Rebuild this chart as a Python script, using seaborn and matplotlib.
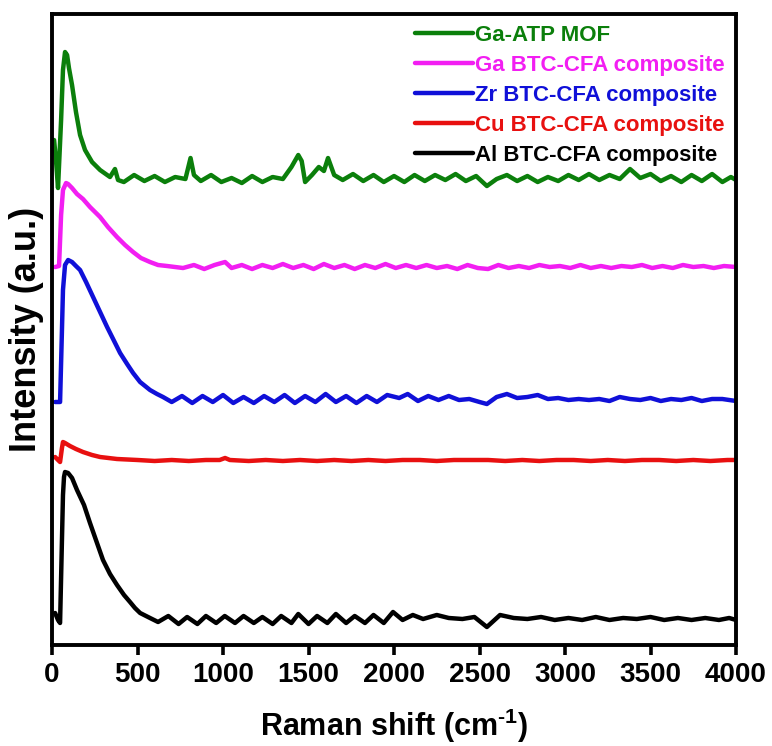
import matplotlib
matplotlib.use("Agg")
import matplotlib.pyplot as plt
from matplotlib.lines import Line2D
import pandas as pd
import seaborn as sns

# ---- Raman spectra (shift in cm^-1, intensity in arbitrary units, stacked) ----
ga_atp_x = [12, 23, 35, 53, 64, 76, 88, 99, 117, 140, 164, 193, 234, 281, 339, 368, 386,
            420, 480, 540, 600, 660, 720, 780, 810, 830, 870, 930, 990, 1050, 1110,
            1170, 1230, 1290, 1350, 1400, 1440, 1460, 1480, 1520, 1560, 1590, 1614,
            1650, 1700, 1760, 1820, 1880, 1940, 2000, 2060, 2120, 2180, 2240, 2300,
            2360, 2420, 2480, 2543, 2600, 2660, 2720, 2780, 2840, 2900, 2960, 3020,
            3080, 3140, 3200, 3260, 3320, 3380, 3440, 3500, 3560, 3620, 3680, 3740,
            3800, 3860, 3920, 3970, 4000]
ga_atp_y = [505, 485, 457, 525, 575, 593, 590, 577, 560, 533, 510, 495, 483, 475, 468, 476, 465,
            463, 470, 464, 469, 463, 468, 466, 487, 470, 464, 470, 463, 467, 462,
            469, 463, 468, 466, 478, 490, 484, 463, 470, 478, 474, 487,
            470, 465, 471, 464, 470, 463, 469, 463, 470, 464, 470, 465,
            471, 464, 469, 459, 466, 470, 464, 469, 463, 468, 464, 470,
            465, 471, 465, 470, 466, 476, 467, 471, 464, 469, 463, 470,
            464, 471, 463, 468, 465]

ga_btc_x = [18, 41, 53, 64, 82, 94, 117, 146, 181, 222, 281, 327, 380, 427, 474, 520,
            573, 620, 673, 766,
            830, 890, 950, 1012, 1050, 1110, 1170, 1230, 1290, 1350, 1410, 1470,
            1530, 1590, 1650, 1710, 1770, 1830, 1890, 1950, 2010, 2070, 2130, 2190,
            2250, 2310, 2370, 2430, 2490, 2550, 2610, 2670, 2730, 2790, 2850, 2910,
            2970, 3030, 3090, 3150, 3210, 3270, 3330, 3390, 3450, 3510, 3570, 3630,
            3690, 3750, 3810, 3870, 3930, 4000]
ga_btc_y = [378, 379, 430, 455, 462, 461, 457, 451, 446, 438, 428, 418, 408, 400, 393, 387,
            383, 380, 379, 377,
            380, 376, 380, 383, 377, 380, 376, 380, 377, 381, 377, 380,
            376, 381, 377, 380, 376, 380, 377, 381, 377, 380, 377, 380,
            377, 379, 376, 380, 377, 376, 380, 377, 379, 377, 380, 378,
            379, 377, 380, 377, 379, 377, 379, 378, 380, 377, 379, 377,
            380, 378, 379, 377, 379, 378]

zr_btc_x = [18, 47, 58, 64, 76, 94, 117, 140, 164, 199, 240, 281, 322, 363, 398, 439,
            474, 515, 573, 614, 649,
            700, 760, 820, 880, 940, 1000, 1060, 1120, 1180, 1240, 1300, 1360,
            1420, 1480, 1540, 1600, 1660, 1720, 1780, 1840, 1900, 1960, 2030, 2080,
            2140, 2200, 2260, 2320, 2380, 2440, 2500, 2543, 2600, 2660, 2720, 2780,
            2840, 2900, 2960, 3020, 3080, 3140, 3200, 3260, 3320, 3380, 3440, 3500,
            3560, 3620, 3680, 3740, 3800, 3860, 3920, 4000]
zr_btc_y = [243, 243, 315, 355, 380, 385, 383, 379, 375, 363, 348, 333, 318, 304, 292, 281,
            272, 263, 255, 251, 248,
            243, 249, 242, 249, 243, 250, 242, 248, 242, 249, 243, 250,
            242, 249, 243, 251, 243, 249, 242, 249, 243, 250, 247, 251,
            244, 249, 245, 249, 245, 246, 243, 241, 248, 251, 247, 248,
            250, 246, 247, 245, 246, 245, 246, 244, 248, 246, 245, 247,
            244, 246, 245, 247, 244, 246, 246, 244]

cu_btc_x = [18, 35, 47, 58, 64, 76, 105, 140, 181, 234, 281, 380,
            500, 600, 700, 800, 900, 980, 1012, 1040, 1150, 1250, 1350, 1450, 1550,
            1650, 1750, 1850, 1950, 2050, 2150, 2250, 2350, 2450, 2550, 2650, 2750,
            2850, 2950, 3050, 3150, 3250, 3350, 3450, 3550, 3650, 3750, 3850, 3950,
            4000]
cu_btc_y = [188, 185, 183, 197, 203, 202, 199, 196, 193, 190, 188, 186,
            185, 184, 185, 184, 185, 185, 187, 185, 184, 185, 184, 185, 184,
            185, 184, 185, 184, 185, 185, 184, 185, 185, 185, 184, 185,
            184, 185, 185, 184, 185, 184, 185, 185, 184, 185, 184, 185,
            185]

al_btc_x = [18, 35, 47, 58, 64, 70, 76, 94, 117, 146, 187, 222, 263, 298, 339, 380,
            421, 456, 485, 515, 573,
            620, 680, 740, 790, 850, 900, 960, 1010, 1070, 1120, 1180, 1230, 1290,
            1340, 1400, 1440, 1500, 1550, 1610, 1660, 1720, 1770, 1830, 1880, 1940,
            1994, 2050, 2110, 2170, 2250, 2320, 2400, 2470, 2543, 2620, 2700, 2780,
            2860, 2940, 3020, 3100, 3180, 3260, 3340, 3420, 3500, 3580, 3660, 3740,
            3820, 3900, 3960, 4000]
al_btc_y = [32, 25, 22, 105, 150, 168, 173, 172, 167, 155, 140, 122, 102, 85, 71, 60,
            50, 43, 37, 32, 27,
            23, 29, 21, 28, 21, 29, 22, 29, 22, 29, 22, 28, 21,
            29, 22, 31, 21, 29, 22, 31, 22, 29, 22, 30, 22,
            33, 25, 30, 26, 30, 27, 26, 28, 18, 30, 27, 26,
            28, 25, 27, 25, 28, 25, 27, 26, 28, 25, 27, 25,
            27, 25, 27, 25]

sample_names = ["Ga-ATP MOF", "Ga BTC-CFA composite", "Zr BTC-CFA composite",
                "Cu BTC-CFA composite", "Al BTC-CFA composite"]
sample_colors = ["#0b7f0b", "#f21ef2", "#1010d8", "#e81010", "#000000"]
x_ticks = [0, 500, 1000, 1500, 2000, 2500, 3000, 3500, 4000]

spectra = [(ga_atp_x, ga_atp_y), (ga_btc_x, ga_btc_y), (zr_btc_x, zr_btc_y),
           (cu_btc_x, cu_btc_y), (al_btc_x, al_btc_y)]
frames = []
for name, (xs, ys) in zip(sample_names, spectra):
    frames.append(pd.DataFrame({"shift": xs, "intensity": ys, "sample": name}))
df = pd.concat(frames, ignore_index=True)

sns.set_style("ticks")
plt.rcParams["font.family"] = ["Liberation Sans", "DejaVu Sans"]
plt.rcParams["font.weight"] = "bold"
plt.rcParams["text.color"] = "black"
plt.rcParams["axes.labelcolor"] = "black"
plt.rcParams["xtick.color"] = "black"
plt.rcParams["mathtext.fontset"] = "custom"
plt.rcParams["mathtext.rm"] = "Liberation Sans:bold"
plt.rcParams["mathtext.bf"] = "Liberation Sans:bold"
plt.rcParams["mathtext.default"] = "bf"

fig = plt.figure(figsize=(7.72, 7.46), dpi=100)
ax = fig.add_axes([0.0674, 0.1354, 0.886, 0.8458])

palette = dict(zip(sample_names, sample_colors))
sns.lineplot(data=df, x="shift", y="intensity", hue="sample", hue_order=sample_names,
             palette=palette, sort=False, estimator=None, linewidth=3.2,
             legend=False, ax=ax)

ax.set_xlim(0, 4000)
ax.set_ylim(0, 631)
ax.set_xticks(x_ticks)
ax.set_xticklabels([str(t) for t in x_ticks], fontsize=20, fontweight="bold")
ax.set_yticks([])
ax.tick_params(axis="x", direction="out", length=7, width=2.6, pad=5)
for side in ["left", "right", "top", "bottom"]:
    ax.spines[side].set_linewidth(2.8)
    ax.spines[side].set_color("black")

ax.set_xlabel(r"Raman shift (cm$^{\text{-1}}$)", fontsize=22, fontweight="bold",
              labelpad=14)
ax.set_ylabel("Intensity (a.u.)", fontsize=26, fontweight="bold", labelpad=6)

handles = [Line2D([0], [0], color=c, lw=3.2) for c in sample_colors]
leg = ax.legend(handles, sample_names, loc="upper right", frameon=False,
                prop={"size": 16, "weight": "bold"}, handlelength=2.6,
                handletextpad=0.1, labelspacing=0.4, borderaxespad=0.1)
for txt, c in zip(leg.get_texts(), sample_colors):
    txt.set_color(c)

fig.savefig("out.png", dpi=100)
